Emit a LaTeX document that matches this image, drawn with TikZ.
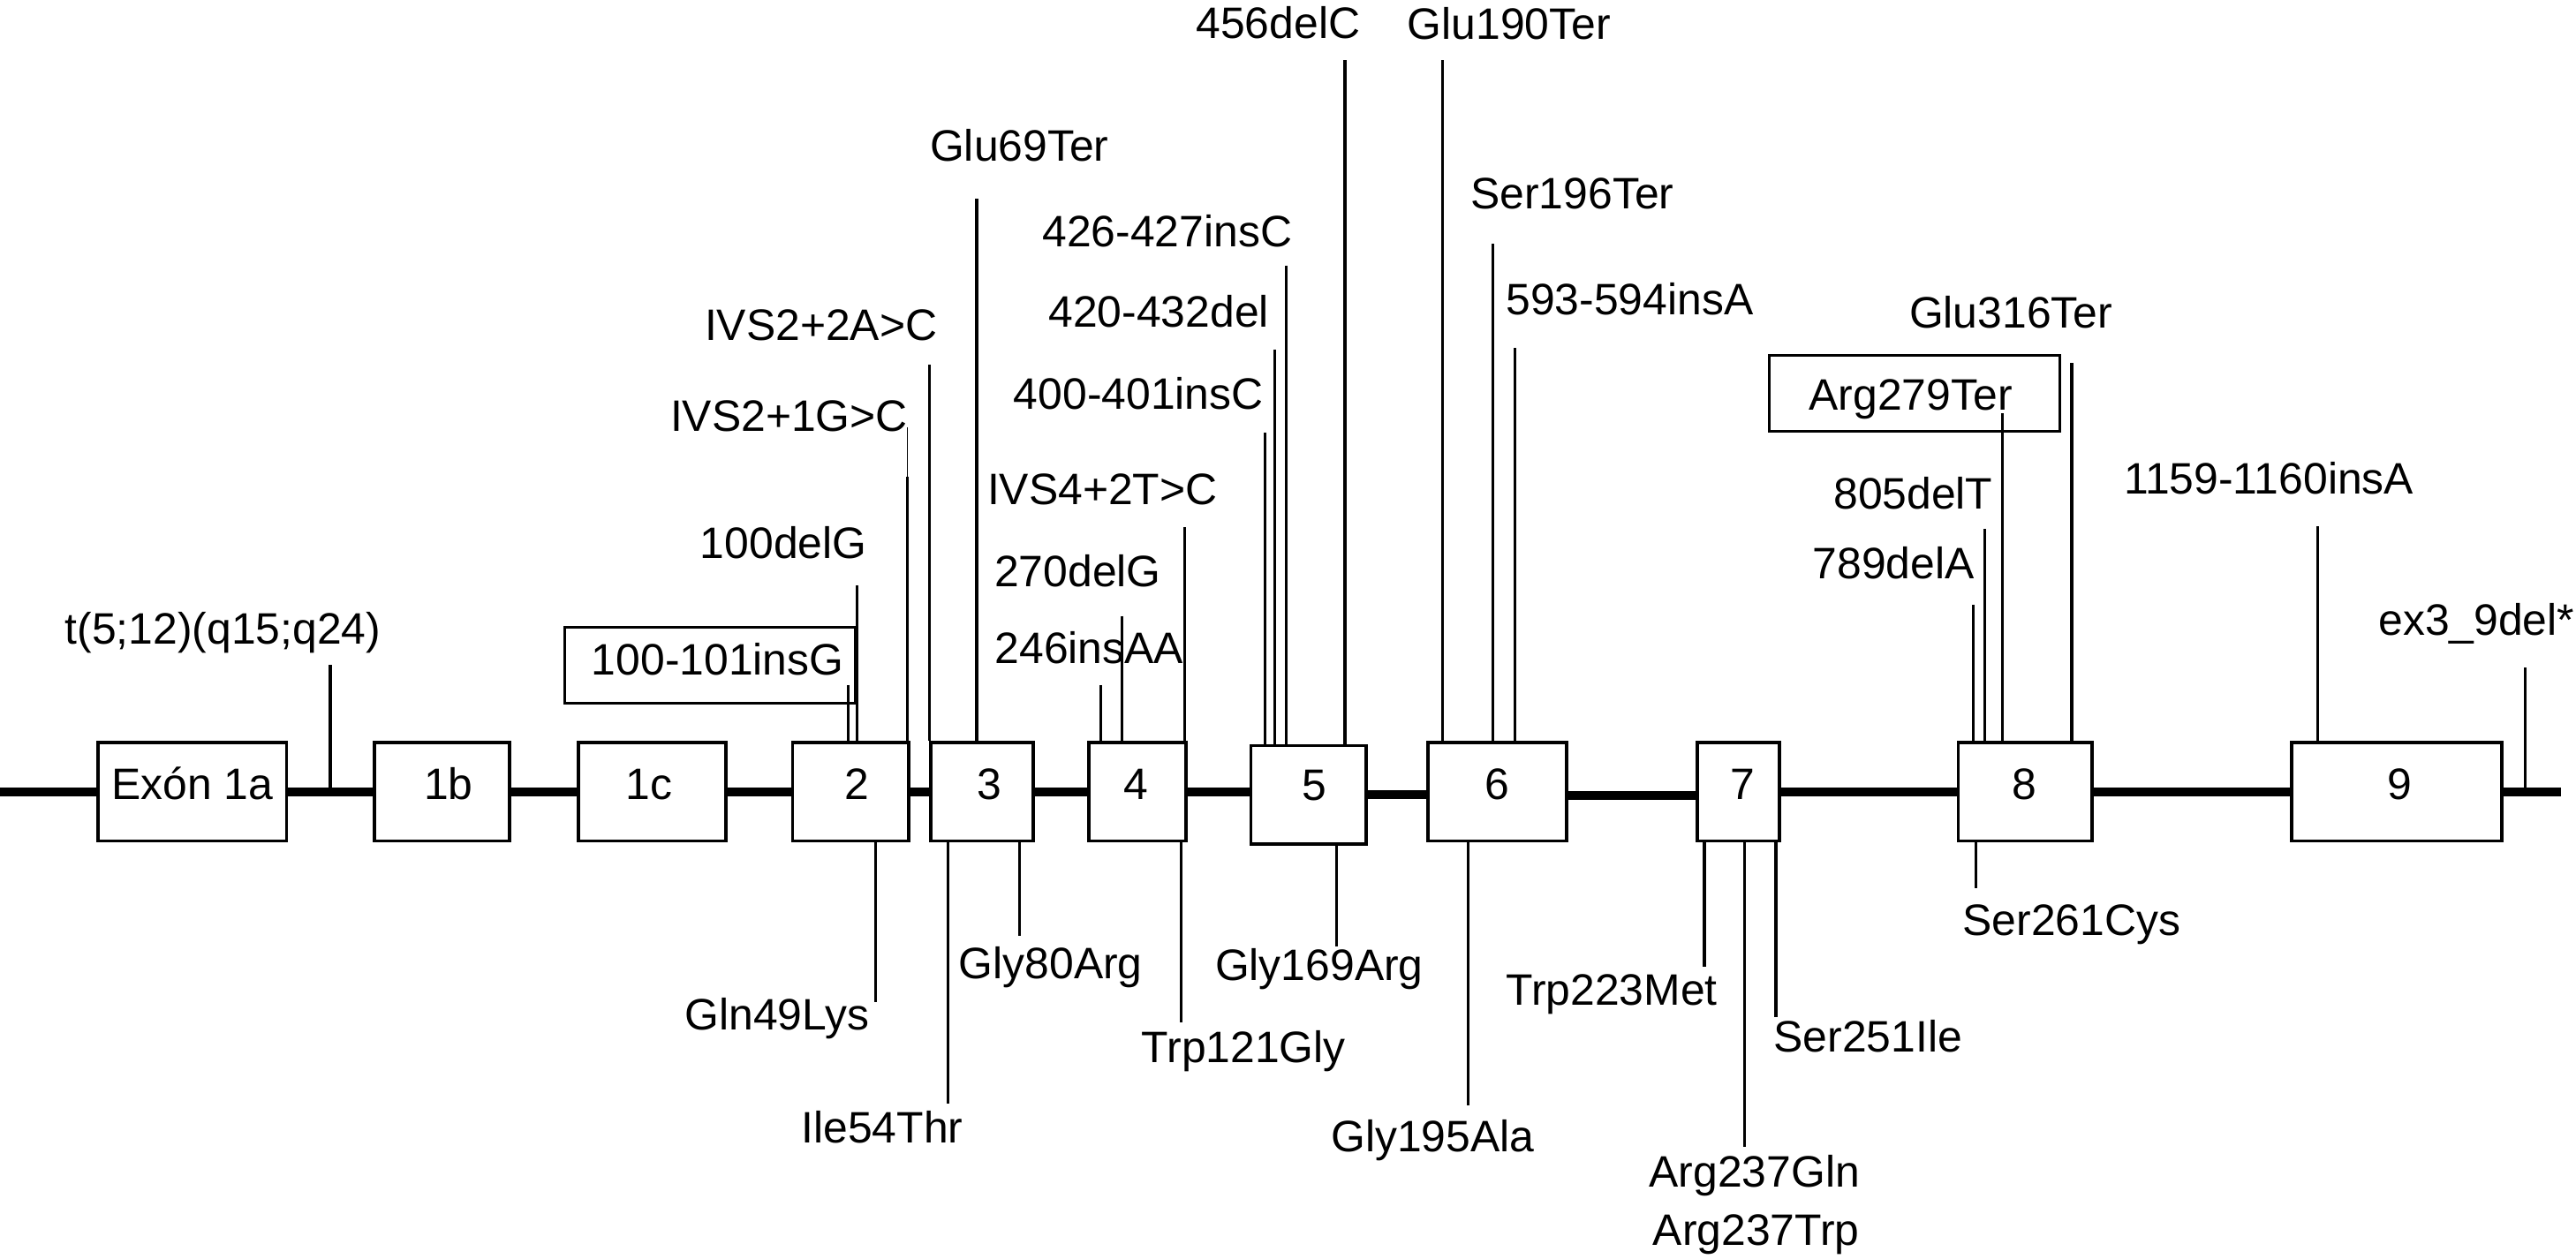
\documentclass[tikz,border=0pt]{standalone}
\usepackage{fontspec}
\setmainfont{Liberation Sans}
\begin{document}
\begin{tikzpicture}[x=1pt,y=-1pt,
  exon/.style={draw, line width=2pt, fill=white, inner sep=0pt, minimum height=60pt},
  mbox/.style={draw, line width=1.6pt, inner sep=0pt, minimum height=46pt},
  mline/.style={line width=1.8pt},
  thinline/.style={line width=0.8pt},
  backbone/.style={line width=5.4pt},
  txt/.style={font=\fontsize{26.8}{30}\selectfont, inner sep=0pt, anchor=base}]
\useasboundingbox (0,0) rectangle (1568,766.5);

% exons
\node[exon, minimum width=115pt]  (e1a) at (117,482) {};
\node[exon, minimum width=82pt]   (e1b) at (269,482) {};
\node[exon, minimum width=90pt]   (e1c) at (397,482) {};
\node[exon, minimum width=70.5pt] (e2)  at (517.75,482) {};
\node[exon, minimum width=62.5pt] (e3)  at (597.75,482) {};
\node[exon, minimum width=59.4pt] (e4)  at (692.3,482) {};
\node[exon, minimum width=70.3pt] (e5)  at (796.6,484) {};
\node[exon, minimum width=84.5pt] (e6)  at (911.25,482) {};
\node[exon, minimum width=50pt]   (e7)  at (1058,482) {};
\node[exon, minimum width=81.3pt] (e8)  at (1232.6,482) {};
\node[exon, minimum width=128pt]  (e9)  at (1459,482) {};

% exon labels
\node[txt] (l1a) at (117,486.5) {Exón 1a};
\node[txt] (l1b) at (273,486.5) {1b};
\node[txt] (l1c) at (395,486.5) {1c};
\node[txt] (l2)  at (521.8,486.5) {2};
\node[txt] (l3)  at (602,486.5) {3};
\node[txt] (l4)  at (691.5,486.5) {4};
\node[txt] (l5)  at (800,487.5) {5};
\node[txt] (l6)  at (911.5,486.5) {6};
\node[txt] (l7)  at (1061,486.5) {7};
\node[txt] (l8)  at (1232,486.5) {8};
\node[txt] (l9)  at (1460.5,486.5) {9};

% backbone
\coordinate (bbL) at (0,482);
\coordinate (bbR) at (1559,482);
\draw[backbone] (bbL) -- (e1a.west);
\draw[backbone] (e1a.east) -- (e1b.west);
\draw[backbone] (e1b.east) -- (e1c.west);
\draw[backbone] (e1c.east) -- (e2.west);
\draw[backbone] (e2.east) -- (e3.west);
\draw[backbone] (e3.east) -- (e4.west);
\draw[backbone] (e4.east) -- (e4.east -| e5.west);
\draw[backbone] (e5.east) -- (e5.east -| e6.west);
\coordinate (b67) at (e6.east |- 0,484.5);
\draw[backbone] (b67) -- (b67 -| e7.west);
\draw[backbone] (e7.east) -- (e8.west);
\draw[backbone] (e8.east) -- (e9.west);
\draw[backbone] (e9.east) -- (bbR);

% ---------- mutations above ----------
\node[txt] (m1) at (135.7,392) {t(5;12)(q15;q24)};
\coordinate (p1) at (201,405);
\draw[mline] (p1) -- (p1 |- e1a.east);

\node[mbox, minimum width=176.4pt] (bx1) at (432.2,405) {};
\node[txt] (m2) at (436.8,411) {100-101insG};
\coordinate (p2) at (516.4,417);
\draw[mline] (p2) -- (p2 |- e2.north);

\node[txt, anchor=base east] (m3) at (527.7,340) {100delG};
\coordinate (p3) at (521.7,356.3);
\draw[mline] (p3) -- (p3 |- e2.north);

\node[txt, anchor=base east] (m4) at (552.7,262.5) {IVS2+1G>C};
\coordinate (p4) at (552.3,260);
\coordinate (p4b) at (552.3,290);
\draw[thinline] (p4) -- (p4b);
\draw[mline] (p4b) -- (p4b |- e2.north);

\node[txt, anchor=base east] (m5) at (570.7,207) {IVS2+2A>C};
\coordinate (p5) at (565.6,222);
\draw[mline] (p5) -- (p5 |- e3.north);

\node[txt] (m6) at (620.5,98) {Glu69Ter};
\coordinate (p6) at (594.5,121);
\draw[mline] (p6) -- (p6 |- e3.north);

\node[txt] (m7) at (710.5,150.5) {426-427insC};
\coordinate (p7) at (783,161.6);
\draw[mline] (p7) -- (p7 |- e5.north);

\node[txt] (m8) at (705.3,199) {420-432del};
\coordinate (p8) at (776,213);
\draw[mline] (p8) -- (p8 |- e5.north);

\node[txt] (m9) at (693,249) {400-401insC};
\coordinate (p9) at (770,263.5);
\draw[mline] (p9) -- (p9 |- e5.north);

\node[txt] (m10) at (671,307) {IVS4+2T>C};
\coordinate (p10) at (721,321);
\draw[mline] (p10) -- (p10 |- e4.north);

\node[txt] (m11) at (656,357) {270delG};
\coordinate (p11) at (683,375);
\draw[mline] (p11) -- (p11 |- e4.north);

\node[txt] (m12) at (663,404) {246insAA};
\coordinate (p12) at (670,417);
\draw[mline] (p12) -- (p12 |- e4.north);

\node[txt] (m13) at (778,23.5) {456delC};
\coordinate (p13) at (818.6,36.7);
\draw[mline] (p13) -- (p13 |- e5.north);

\node[txt, anchor=base west] (m14) at (856.5,24) {Glu190Ter};
\coordinate (p14) at (878,36.7);
\draw[mline] (p14) -- (p14 |- e6.north);

\node[txt, anchor=base west] (m15) at (895,127.2) {Ser196Ter};
\coordinate (p15) at (908.7,148.4);
\draw[mline] (p15) -- (p15 |- e6.north);

\node[txt, anchor=base west] (m16) at (916.5,191.8) {593-594insA};
\coordinate (p16) at (922,212);
\draw[mline] (p16) -- (p16 |- e6.north);

\node[mbox, minimum width=177pt] (bx2) at (1165.5,239.5) {};
\node[txt] (m17) at (1163,249.5) {Arg279Ter};
\coordinate (p17) at (1219,251.7);
\draw[mline] (p17) -- (p17 |- e8.north);

\node[txt] (m18) at (1224,199.5) {Glu316Ter};
\coordinate (p18) at (1261,221);
\draw[mline] (p18) -- (p18 |- e8.north);

\node[txt] (m19) at (1164.5,310) {805delT};
\coordinate (p19) at (1208,322);
\draw[mline] (p19) -- (p19 |- e8.north);

\node[txt] (m20) at (1152.5,352.5) {789delA};
\coordinate (p20) at (1201,368);
\draw[mline] (p20) -- (p20 |- e8.north);

\node[txt] (m21) at (1381,300.5) {1159-1160insA};
\coordinate (p21) at (1410.6,320.6);
\draw[mline] (p21) -- (p21 |- e9.north);

\node[txt, anchor=base west] (m22) at (1447.6,387) {ex3\_9del*};
\coordinate (p22) at (1537,406.4);
\draw[mline] (p22) -- (p22 |- e9.east);

% ---------- mutations below ----------
\node[txt] (m23) at (473,627) {Gln49Lys};
\coordinate (q23) at (533,610);
\draw[mline] (q23 |- e2.south) -- (q23);

\node[txt] (m24) at (537,696) {Ile54Thr};
\coordinate (q24) at (577,672);
\draw[mline] (q24 |- e3.south) -- (q24);

\node[txt] (m25) at (639.5,596) {Gly80Arg};
\coordinate (q25) at (620.7,570);
\draw[mline] (q25 |- e3.south) -- (q25);

\node[txt] (m26) at (757,647) {Trp121Gly};
\coordinate (q26) at (719,622.6);
\draw[mline] (q26 |- e4.south) -- (q26);

\node[txt] (m27) at (803,597) {Gly169Arg};
\coordinate (q27) at (813.7,576);
\draw[mline] (q27 |- e5.south) -- (q27);

\node[txt] (m28) at (872,701) {Gly195Ala};
\coordinate (q28) at (893.7,672.8);
\draw[mline] (q28 |- e6.south) -- (q28);

\node[txt, anchor=base east] (m29) at (1045.5,612) {Trp223Met};
\coordinate (q29) at (1037.5,588.8);
\draw[mline] (q29 |- e7.south) -- (q29);

\node[txt] (m30) at (1068,722.5) {Arg237Gln};
\node[txt] (m31) at (1069,758) {Arg237Trp};
\coordinate (q30) at (1062,698);
\draw[mline] (q30 |- e7.south) -- (q30);

\node[txt] (m32) at (1137,640.6) {Ser251Ile};
\coordinate (q32) at (1081,619);
\draw[mline] (q32 |- e7.south) -- (q32);

\node[txt] (m33) at (1261,569.5) {Ser261Cys};
\coordinate (q33) at (1202.8,540.8);
\draw[mline] (q33 |- e8.south) -- (q33);
\end{tikzpicture}
\end{document}
